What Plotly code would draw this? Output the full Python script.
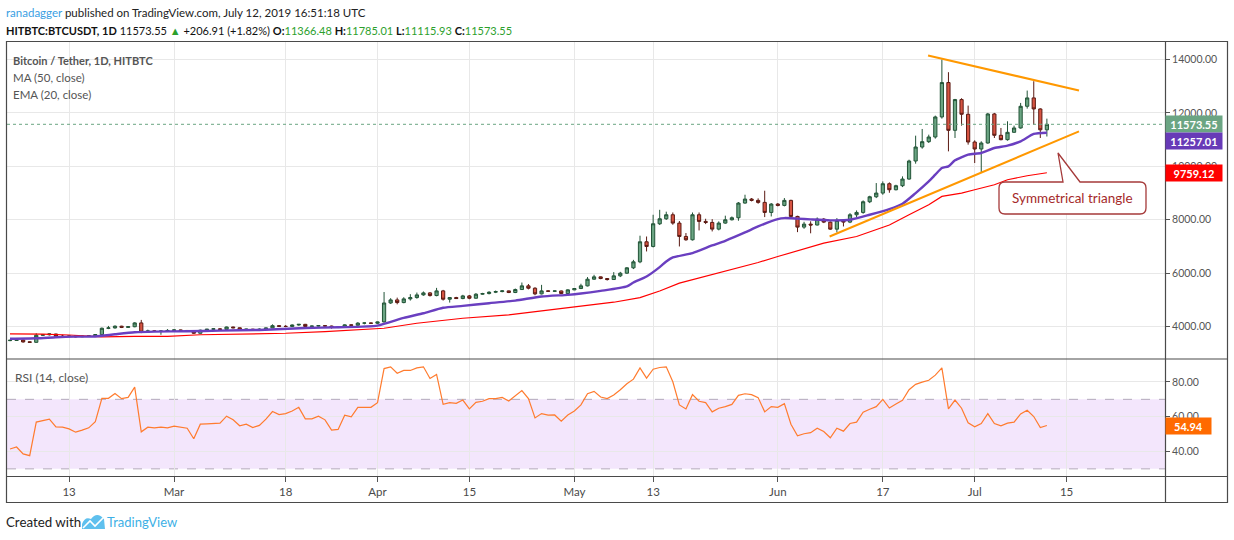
import pandas as pd
import plotly.graph_objects as go
from plotly.subplots import make_subplots

# ---------------- data ----------------
dates = pd.date_range("2019-02-04", "2019-07-12", freq="D")

open_feb = [3470,3478,3492,3425,3405,3670,3688,3718,3640,3625,3645,3615,3635,3650,3695,3930,3945,4010,3965,3990,4133,3783,3835,3815,3830]
high_feb = [3500,3505,3505,3435,3745,3700,3735,3725,3690,3670,3655,3660,3680,3710,3960,4020,4040,4025,4000,4160,4245,3880,3850,3860,3900]
low_feb  = [3450,3460,3395,3390,3395,3650,3660,3620,3610,3600,3590,3600,3620,3625,3680,3900,3920,3940,3950,3970,3750,3770,3800,3690,3800]
close_feb= [3482,3492,3420,3405,3670,3690,3720,3633,3625,3645,3615,3635,3650,3695,3933,3945,4010,3965,3990,4133,3783,3835,3815,3830,3850]

open_mar = [3850,3870,3850,3825,3745,3860,3895,3910,3890,3980,3950,3880,3900,3880,3895,3945,4030,4005,4000,4055,4080,4000,4015,4030,4015,3960,3970,4060,4045,4125,4130]
high_mar = [3890,3880,3860,3840,3880,3910,3930,3940,3995,3990,3960,3915,3910,3930,3960,4080,4040,4050,4075,4090,4095,4030,4040,4040,4030,3990,4080,4075,4160,4150,4140]
low_mar  = [3830,3830,3800,3720,3735,3840,3870,3860,3880,3930,3860,3840,3860,3830,3880,3940,3990,3975,3990,4030,3960,3990,4000,3995,3920,3940,3960,4030,4030,4080,4100]
close_mar= [3870,3850,3825,3745,3860,3895,3910,3890,3980,3950,3880,3900,3880,3895,3945,4030,4005,4000,4055,4080,4000,4015,4030,4015,3960,3970,4060,4045,4125,4130,4120]

open_apr = [4120,4170,4880,4995,4895,5033,5083,5183,5258,5158,5333,5021,5083,5046,5145,5058,5208,5233,5283,5308,5333,5271,5383,5521,5433,5221,5333,5320,5330,5233]
high_apr = [4180,5290,5060,5080,5095,5210,5270,5310,5285,5445,5370,5100,5110,5185,5180,5250,5260,5320,5345,5360,5345,5420,5646,5590,5470,5558,5350,5345,5345,5390]
low_apr  = [4090,4150,4845,4830,4870,4970,5040,5150,5120,5130,4970,4895,5030,5020,5020,5040,5190,5200,5250,5280,5250,5250,5370,5390,5170,5200,5300,5290,5210,5220]
close_apr= [4170,4880,4995,4895,5033,5083,5183,5258,5158,5333,5021,5083,5046,5145,5058,5208,5233,5283,5308,5333,5271,5383,5521,5433,5221,5333,5320,5330,5233,5371]

open_may = [5371,5421,5521,5771,5858,5796,5758,5896,5996,6196,6421,7172,6997,7847,8034,8185,7872,7372,7247,8185,7935,7897,7647,7872,7997,8072,8623,8773,8723,8648,8272]
high_may = [5440,5600,5850,5935,5870,5810,6035,6045,6220,6495,7400,7370,8185,8370,8300,8270,7950,7500,8270,8270,8035,8020,7935,8150,8120,8660,8935,8810,8800,9085,8623]
low_may  = [5360,5400,5500,5750,5770,5720,5745,5850,5970,6150,6370,6810,6960,7800,7990,7810,6997,7210,7220,7597,7835,7560,7600,7847,7970,7960,8598,8685,8598,8097,8122]
close_may= [5421,5521,5771,5858,5796,5758,5896,5996,6196,6421,7172,6997,7847,8034,8185,7872,7372,7247,8185,7935,7897,7647,7872,7997,8072,8623,8773,8723,8648,8272,8585]

open_jun = [8585,8535,8723,8122,7722,7834,7800,8021,7909,7646,7971,7909,8184,8272,8672,8859,8997,9347,9122,9272,9522,10198,10723,10923,11098,11849,13137,11348,12499,11949]
high_jun = [8623,8810,8748,8147,7921,7940,8084,8059,7934,8059,8009,8247,8347,8722,8897,9372,9434,9397,9309,9622,10248,11148,11398,11185,11899,14000,13525,12524,12550,12274]
low_jun  = [8498,8498,8097,7534,7659,7490,7784,7872,7621,7521,7746,7871,8097,8222,8622,8809,8934,9009,9097,9222,9497,10098,10660,10873,11036,11786,10560,11061,11523,10811]
close_jun= [8535,8723,8122,7722,7834,7800,8021,7909,7646,7971,7909,8184,8272,8672,8859,8997,9347,9122,9272,9522,10198,10723,10923,11098,11849,13137,11348,12499,11949,10910]

open_jul = [10910,10648,10873,11961,11161,10998,11273,11436,12249,12562,12149,11366.48]
high_jul = [10973,10936,12000,12000,11436,11686,11523,12374,12837,13187,12174,11785.01]
low_jul  = [10123,9747,10848,11061,10973,10960,11261,11411,12161,11561,11061,11115.93]
close_jul= [10648,10873,11961,11161,10998,11273,11436,12249,12562,12149,11366.48,11573.55]

# MA (50, close)
ma50_dates = ["2019-02-04","2019-02-09","2019-02-13","2019-02-18","2019-02-23","2019-02-28","2019-03-05",
              "2019-03-11","2019-03-18","2019-03-24","2019-03-30","2019-04-02","2019-04-07","2019-04-14",
              "2019-04-21","2019-04-29","2019-05-07","2019-05-11","2019-05-14","2019-05-17","2019-05-21",
              "2019-05-25","2019-05-29","2019-06-01","2019-06-05","2019-06-08","2019-06-13","2019-06-18",
              "2019-06-21","2019-06-24","2019-06-26","2019-06-29","2019-07-01","2019-07-04","2019-07-06",
              "2019-07-09","2019-07-12"]
ma50_vals = [3720,3715,3680,3610,3625,3625,3690,3720,3745,3808,3883,3933,4120,4308,4433,4683,4908,5080,
             5330,5621,5871,6146,6396,6621,6908,7121,7371,7800,8184,8559,8872,8997,9122,9310,9497,9647,9759.12]

# EMA (20, close)
ema20_dates = ["2019-02-04","2019-02-08","2019-02-11","2019-02-14","2019-02-17","2019-02-20","2019-02-23",
               "2019-02-26","2019-03-03","2019-03-08","2019-03-14","2019-03-21","2019-03-26","2019-04-01",
               "2019-04-05","2019-04-08","2019-04-11","2019-04-14","2019-04-18","2019-04-22","2019-04-26",
               "2019-04-30","2019-05-02","2019-05-05","2019-05-09","2019-05-10","2019-05-12","2019-05-14",
               "2019-05-15","2019-05-16","2019-05-19","2019-05-22","2019-05-24","2019-05-27","2019-05-29",
               "2019-06-01","2019-06-02","2019-06-04","2019-06-06","2019-06-09","2019-06-12","2019-06-15",
               "2019-06-18","2019-06-20","2019-06-22","2019-06-24","2019-06-25","2019-06-26","2019-06-27",
               "2019-06-28","2019-06-30","2019-07-02","2019-07-04","2019-07-06","2019-07-08","2019-07-10",
               "2019-07-12"]
ema20_vals = [3540,3557,3595,3620,3625,3707,3782,3808,3820,3845,3870,3945,3970,4030,4320,4495,4700,4770,
              4870,4970,5120,5185,5233,5333,5500,5646,5871,6221,6434,6584,6747,7034,7209,7522,7747,8022,
              8060,8040,8010,7975,7997,8184,8397,8597,8997,9435,9685,9935,9997,10223,10435,10498,10685,
              10773,10936,11211,11257.01]

# RSI (14, close), one value per day
rsi = [41.4,42.6,38.6,37.6,56.9,57.6,58.6,54.2,54.0,53.0,51.1,52.3,53.6,57.2,70.6,70.6,73.4,70.4,71.1,77.0,
       51.3,54.0,53.6,54.0,53.6,54.6,54.0,53.4,47.3,55.7,55.9,56.3,56.3,60.3,58.2,54.8,55.7,53.8,55.0,58.6,
       63.0,61.2,61.8,63.3,65.4,58.8,58.8,60.3,58.2,52.3,52.7,60.9,59.9,65.4,65.4,65.4,68.1,87.7,88.7,85.0,
       86.6,86.6,88.1,88.7,82.0,84.3,67.1,68.1,67.7,69.6,64.5,68.3,68.9,70.4,70.4,71.1,69.0,71.9,75.0,70.4,
       59.3,61.8,60.9,61.0,57.4,61.0,63.3,66.8,73.2,74.6,71.3,70.4,72.5,75.5,79.0,81.6,88.1,82.2,87.3,88.3,
       88.7,80.1,66.8,64.5,72.7,68.9,68.1,62.8,64.9,65.8,67.1,72.3,73.2,72.7,71.0,62.8,65.8,65.4,67.5,55.7,
       49.0,50.2,50.8,53.4,51.5,47.9,53.4,51.7,56.1,56.9,62.6,64.3,65.8,70.0,65.0,67.3,69.4,75.5,78.6,79.9,
       81.0,83.9,88.1,64.5,69.6,64.9,56.5,54.2,56.1,61.8,56.1,54.8,56.3,56.9,61.6,63.7,60.1,53.8,54.94]

# hand-drawn triangle (two trend lines)
tri_upper_dates = ["2019-06-23 21:30", "2019-07-16 21:30"]
tri_upper_vals = [14150, 12840]
tri_lower_dates = ["2019-06-08 21:30", "2019-07-16 21:30"]
tri_lower_vals = [7370, 11310]

tick_dates = ["2019-02-13","2019-03-01","2019-03-18","2019-04-01","2019-04-15","2019-05-01",
              "2019-05-13","2019-06-01","2019-06-17","2019-07-01","2019-07-15"]
tick_text = ["13","Mar","18","Apr","15","May","13","Jun","17","Jul","15"]
price_ticks = [4000, 6000, 8000, 10000, 12000, 14000]
rsi_ticks = [40, 60, 80]

open_ = open_feb + open_mar + open_apr + open_may + open_jun + open_jul
high = high_feb + high_mar + high_apr + high_may + high_jun + high_jul
low = low_feb + low_mar + low_apr + low_may + low_jun + low_jul
close = close_feb + close_mar + close_apr + close_may + close_jun + close_jul

# ---------------- layout helpers (pixel -> paper) ----------------
W, H = 1234, 540
L, R, T, B = 7, 1165, 41, 476
def px(x): return (x - L) / (R - L)
def py(y): return (B - y) / (B - T)
def P(x, y): return f"{px(x):.5f},{py(y):.5f}"

FONT = "Lato"
GRID = "#e8e8e8"
FRAME = "#4a4a4a"

fig = make_subplots(rows=2, cols=1, shared_xaxes=True, vertical_spacing=0,
                    row_heights=[318, 117])

fig.add_trace(go.Candlestick(
    x=dates, open=open_, high=high, low=low, close=close,
    increasing=dict(fillcolor="#6ba583", line=dict(color="#225437", width=1)),
    decreasing=dict(fillcolor="#d75442", line=dict(color="#5b1a13", width=1)),
    whiskerwidth=0, showlegend=False, hoverinfo="skip"), row=1, col=1)

fig.add_trace(go.Scatter(x=pd.to_datetime(ma50_dates), y=ma50_vals, mode="lines",
                         line=dict(color="#ff0000", width=1.2), showlegend=False,
                         hoverinfo="skip"), row=1, col=1)
fig.add_trace(go.Scatter(x=pd.to_datetime(ema20_dates), y=ema20_vals, mode="lines",
                         line=dict(color="#6a3fc0", width=2.4, shape="spline", smoothing=0.6),
                         showlegend=False, hoverinfo="skip"), row=1, col=1)
fig.add_trace(go.Scatter(x=pd.to_datetime(tri_upper_dates), y=tri_upper_vals, mode="lines",
                         line=dict(color="#ff9800", width=2), showlegend=False,
                         hoverinfo="skip"), row=1, col=1)
fig.add_trace(go.Scatter(x=pd.to_datetime(tri_lower_dates), y=tri_lower_vals, mode="lines",
                         line=dict(color="#ff9800", width=2), showlegend=False,
                         hoverinfo="skip"), row=1, col=1)

fig.add_trace(go.Scatter(x=dates, y=rsi, mode="lines",
                         line=dict(color="#ff7b2e", width=1.2), showlegend=False,
                         hoverinfo="skip"), row=2, col=1)

x_range = [pd.Timestamp("2019-02-04") - pd.Timedelta(hours=11),
           pd.Timestamp("2019-07-30")]

fig.update_xaxes(type="date", range=x_range, showgrid=True, gridcolor=GRID, gridwidth=1,
                 tickvals=pd.to_datetime(tick_dates), ticktext=tick_text,
                 zeroline=False, showline=False, rangeslider_visible=False)
fig.update_xaxes(showticklabels=False, ticks="", row=1, col=1)
fig.update_xaxes(ticks="outside", ticklen=5, tickcolor="#555555",
                 tickfont=dict(family=FONT, size=11.5, color="#4a4a4a"), row=2, col=1)

fig.update_yaxes(side="right", showgrid=True, gridcolor=GRID, zeroline=False, showline=False,
                 ticks="outside", ticklen=4, tickcolor="#555555",
                 tickfont=dict(family=FONT, size=10.5, color="#555555"))
fig.update_yaxes(range=[2781, 14694], tickvals=price_ticks,
                 ticktext=[f"{v:.2f}" for v in price_ticks], row=1, col=1)
fig.update_yaxes(range=[25.9, 93.2], tickvals=rsi_ticks,
                 ticktext=[f"{v:.2f}" for v in rsi_ticks], row=2, col=1)

shapes = []
# RSI band and its dashed bounds
shapes.append(dict(type="rect", xref="x2 domain", yref="y2", x0=0, x1=1, y0=30, y1=70,
                   fillcolor="#f3e6fc", line=dict(width=0), layer="below"))
for lvl in (30, 70):
    shapes.append(dict(type="line", xref="x2 domain", yref="y2", x0=0, x1=1, y0=lvl, y1=lvl,
                       line=dict(color="#b3a9bb", width=1, dash="dash"), layer="below"))
# last price dotted line
shapes.append(dict(type="line", xref="x domain", yref="y", x0=0, x1=1,
                   y0=close[-1], y1=close[-1],
                   line=dict(color="#6ba583", width=1, dash="dot")))
# frame
shapes.append(dict(type="rect", xref="paper", yref="paper", x0=px(6.5), x1=px(1227.5),
                   y0=py(502.5), y1=py(41.5), line=dict(color=FRAME, width=1.2)))
shapes.append(dict(type="line", xref="paper", yref="paper", x0=px(1165.5), x1=px(1165.5),
                   y0=py(502.5), y1=py(41.5), line=dict(color=FRAME, width=1.2)))
for yy in (359, 476.5):
    shapes.append(dict(type="line", xref="paper", yref="paper", x0=px(6.5), x1=px(1227.5),
                       y0=py(yy), y1=py(yy), line=dict(color=FRAME, width=1.2)))
# callout bubble
bubble = (f"M {P(1005,182)} L {P(1063,182)} L {P(1058,153)} L {P(1080,182)} L {P(1140,182)} "
          f"Q {P(1146,182)} {P(1146,188)} L {P(1146,208)} Q {P(1146,214)} {P(1140,214)} "
          f"L {P(1005,214)} Q {P(999,214)} {P(999,208)} L {P(999,188)} Q {P(999,182)} {P(1005,182)} Z")
shapes.append(dict(type="path", xref="paper", yref="paper", path=bubble,
                   fillcolor="#ffffff", line=dict(color="#a53a3a", width=1.3), layer="above"))
# TradingView logo (footer)
logo = (f"M {P(82,529)} L {P(82,524)} Q {P(85,516)} {P(91,519)} Q {P(97,511)} {P(104,519)} "
        f"L {P(105,529)} Z")
shapes.append(dict(type="path", xref="paper", yref="paper", path=logo,
                   fillcolor="#5fc0ee", line=dict(width=0)))
shapes.append(dict(type="path", xref="paper", yref="paper",
                   path=f"M {P(83,528)} L {P(90,521)} L {P(95,526)} L {P(104,517)}",
                   line=dict(color="#ffffff", width=1.6)))

ann = []
def text(x, y, s, size=13, color="#333333", anchor="left", **kw):
    ann.append(dict(x=px(x), y=py(y), xref="paper", yref="paper", text=s, showarrow=False,
                    xanchor=anchor, yanchor="middle",
                    font=dict(family=FONT, size=size, color=color), **kw))

G = "#2ca02c"
text(4, 12, "<span style='color:#3aa0e3'>ranadagger</span> published on TradingView.com, July 12, 2019 16:51:18 UTC",
     size=11.5, color="#222222")
text(4, 30, f"<b>HITBTC:BTCUSDT, 1D</b> {close[-1]:.2f} <span style='color:{G}'>▲</span> +206.91 (+1.82%) "
     f"<b>O:</b><span style='color:{G}'>{open_[-1]:.2f}</span> "
     f"<b>H:</b><span style='color:{G}'>{high[-1]:.2f}</span> "
     f"<b>L:</b><span style='color:{G}'>{low[-1]:.2f}</span> "
     f"<b>C:</b><span style='color:{G}'>{close[-1]:.2f}</span>",
     size=11, color="#111111")
text(11, 60, "<b>Bitcoin / Tether, 1D, HITBTC</b>", size=11, color="#555555")
text(11, 77, "MA (50, close)", size=11.5, color="#555555")
text(11, 94, "EMA (20, close)", size=11.5, color="#555555")
text(13, 377, "RSI (14, close)", size=12, color="#555555")
text(1072.5, 198, "Symmetrical triangle", size=13.5, color="#a52a2a", anchor="center")
text(4, 522, "Created with", size=13.3, color="#222222")
text(105, 522, "TradingView", size=13, color="#3db0e6")

def price_label(yref, val, bg, w, yshift=0):
    ann.append(dict(x=1, xref="paper", y=val, yref=yref, text=f"<b>{val:.2f}</b>",
                    showarrow=False, xanchor="left", yanchor="middle", xshift=0, yshift=yshift,
                    bgcolor=bg, width=w, height=15, borderpad=0.5, align="center",
                    font=dict(family=FONT, size=11, color="#ffffff")))

price_label("y", close[-1], "#6ba583", 55)
price_label("y", ema20_vals[-1], "#673ab7", 55, yshift=-8)
price_label("y", ma50_vals[-1], "#ff0000", 55)
price_label("y2", rsi[-1], "#ff6a00", 44)

fig.update_layout(width=W, height=H, margin=dict(l=L, r=W - R, t=T, b=H - B),
                  paper_bgcolor="#ffffff", plot_bgcolor="#ffffff",
                  shapes=shapes, annotations=ann, showlegend=False,
                  font=dict(family=FONT))

fig.write_html("out.html", config={"displayModeBar": False},
               post_script="document.body.style.margin='0px';")
